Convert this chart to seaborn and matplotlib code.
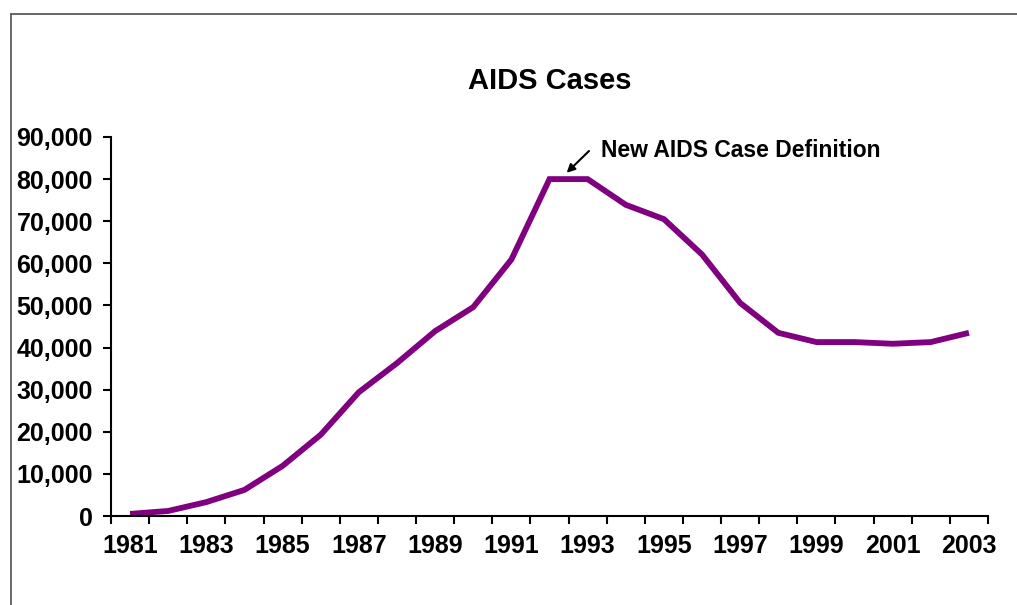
import matplotlib
matplotlib.use("Agg")
import matplotlib.pyplot as plt
from matplotlib.lines import Line2D
from matplotlib.ticker import FuncFormatter, FixedLocator
import seaborn as sns
import pandas as pd

# Reported AIDS cases by year of diagnosis
years = list(range(1981, 2004))
cases = [500, 1200, 3300, 6200, 11900, 19300, 29400, 36300, 43900, 49600,
         60900, 80000, 80000, 73900, 70500, 62100, 50600, 43500, 41300, 41300,
         40900, 41300, 43500]
year_labels = [str(y) if (y - 1981) % 2 == 0 else "" for y in years]
title = "AIDS Cases"
note = "New AIDS Case Definition"
note_year = 1992.45

sns.set_style("white")
plt.rcParams["font.family"] = ["Liberation Sans", "DejaVu Sans"]
plt.rcParams["font.weight"] = "bold"
plt.rcParams["text.color"] = "black"
plt.rcParams["xtick.color"] = "black"
plt.rcParams["ytick.color"] = "black"
plt.rcParams["xtick.labelcolor"] = "black"
plt.rcParams["ytick.labelcolor"] = "black"

df = pd.DataFrame({"pos": range(len(years)), "cases": cases})

W, H = 1017, 605
fig = plt.figure(figsize=(W / 100, H / 100), dpi=100)
ax = fig.add_axes([111 / W, 1 - 516 / H, (988 - 111) / W, (516 - 137) / H])

sns.lineplot(data=df, x="pos", y="cases", ax=ax, color="#800080",
             linewidth=4.2, solid_joinstyle="miter", solid_capstyle="butt")

ax.set_xlim(-0.5, len(years) - 0.5)
ax.set_ylim(0, 90000)
ax.set_xlabel("")
ax.set_ylabel("")

# y axis
ax.yaxis.set_major_locator(FixedLocator(range(0, 90001, 10000)))
ax.yaxis.set_major_formatter(FuncFormatter(lambda v, p: f"{int(v):,}"))
ax.tick_params(axis="y", which="major", direction="out", length=6, width=1.5,
               color="black", pad=7, labelsize=18, left=True,
               labelcolor="black")

# x axis: tick marks between categories, labels at category centres
ax.xaxis.set_major_locator(FixedLocator([i - 0.5 for i in range(len(years) + 1)]))
ax.xaxis.set_major_formatter(FuncFormatter(lambda v, p: ""))
ax.set_xticks(range(len(years)), year_labels, minor=True)
ax.tick_params(axis="x", which="major", direction="out", length=6, width=1.5,
               color="black", bottom=True)
ax.tick_params(axis="x", which="minor", length=0, pad=13, labelsize=18,
               labelcolor="black")

for lbl in ax.get_xticklabels(minor=True) + ax.get_yticklabels():
    lbl.set_fontweight("bold")

sns.despine(ax=ax)
for side in ("left", "bottom"):
    ax.spines[side].set_linewidth(1.5)
    ax.spines[side].set_color("black")

fig.text(550 / W, 1 - 81 / H, title, ha="center", va="center",
         fontsize=21, fontweight="bold", color="black")

# note text and its pointer to the 1992 plateau
fig.text(601 / W, 1 - 150 / H, note, ha="left", va="center",
         fontsize=16.5, fontweight="bold", color="black")
ax.annotate("", xy=(note_year - 1981, 81500),
            xytext=(589 / W, 1 - 151 / H), textcoords="figure fraction",
            arrowprops=dict(arrowstyle="-|>", color="black", lw=1.5,
                            mutation_scale=12, shrinkA=0, shrinkB=0),
            annotation_clip=False)

# outer frame lines at top and left
fig.add_artist(Line2D([11 / W, 1], [1 - 14 / H, 1 - 14 / H],
                      transform=fig.transFigure, color="#5a5a5a", lw=1.3))
fig.add_artist(Line2D([11 / W, 11 / W], [0, 1 - 14 / H],
                      transform=fig.transFigure, color="#5a5a5a", lw=1.3))

fig.savefig("out.png", dpi=100, facecolor="white")
